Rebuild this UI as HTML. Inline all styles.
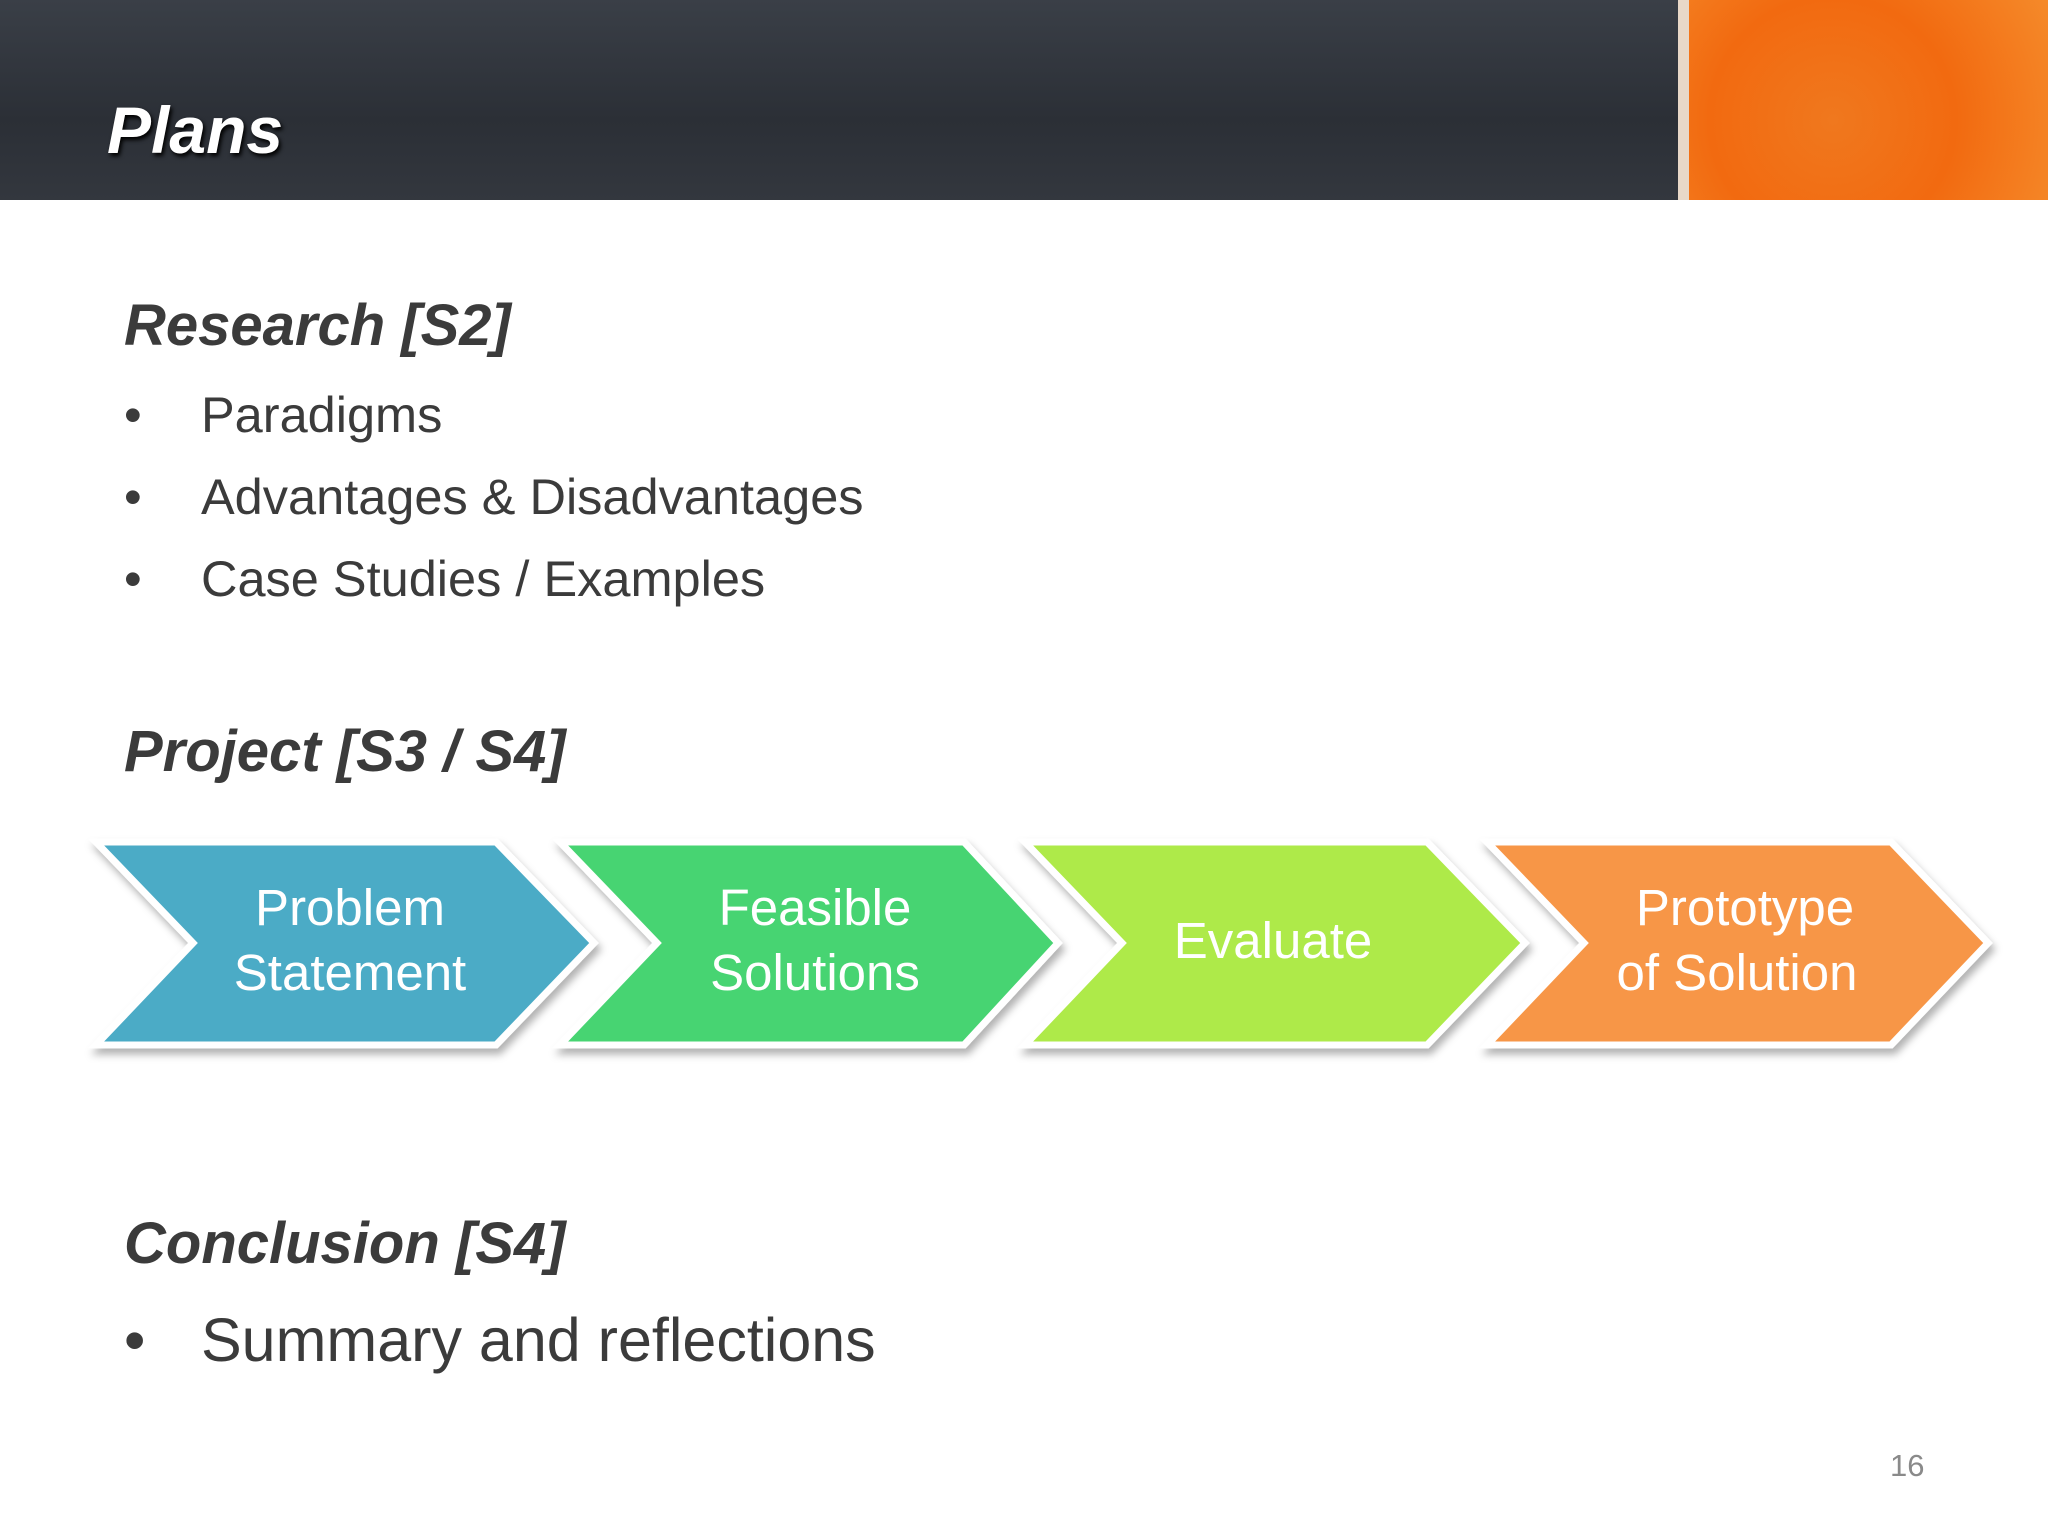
<!DOCTYPE html>
<html><head><meta charset="utf-8"><style>
html,body{margin:0;padding:0}
body{width:2048px;height:1536px;position:relative;overflow:hidden;background:#fff;font-family:"Liberation Sans",sans-serif}
.hdr{position:absolute;left:0;top:0;width:1678px;height:200px;background:linear-gradient(180deg,#3a3f47,#2b2f36 60%,#33373e)}
.gap{position:absolute;left:1678px;top:0;width:11px;height:200px;background:#e8d8c8}
.org{position:absolute;left:1689px;top:0;width:359px;height:200px;background:radial-gradient(circle at 40% 60%,#f0781e,#f26a10 50%,#f58a2a)}
.t{position:absolute;white-space:nowrap}
.h{font-weight:bold;font-style:italic;color:#3b3b3b;font-size:58px}
.b{color:#3b3b3b;font-size:50.5px}
</style></head><body>
<div class="hdr"></div><div class="gap"></div><div class="org"></div>
<div class="t" style="left:107px;top:92px;font-size:66px;font-weight:bold;font-style:italic;color:#fff;text-shadow:2px 3px 4px #000">Plans</div>
<div class="t h" style="left:124px;top:292px">Research [S2]</div>
<div class="t b" style="left:124px;top:385px">•</div><div class="t b" style="left:201px;top:385px">Paradigms</div>
<div class="t b" style="left:124px;top:467px">•</div><div class="t b" style="left:201px;top:467px">Advantages &amp; Disadvantages</div>
<div class="t b" style="left:124px;top:549px">•</div><div class="t b" style="left:201px;top:549px">Case Studies / Examples</div>
<div class="t h" style="left:124px;top:718px">Project [S3 / S4]</div>
<svg style="position:absolute;left:0;top:0" width="2048" height="1536">
<defs><filter id="s" x="-10%" y="-10%" width="120%" height="130%"><feDropShadow dx="3" dy="6" stdDeviation="4" flood-color="#000" flood-opacity="0.3"/></filter></defs>
<g stroke="#fff" stroke-width="7" filter="url(#s)">
<polygon points="96,842 496,842 594,943 496,1045 96,1045 193,943" fill="#4babc6"/>
<polygon points="560,842 964,842 1058,943 964,1045 560,1045 657,943" fill="#47d472"/>
<polygon points="1025,842 1427,842 1525,943 1427,1045 1025,1045 1122,943" fill="#aeea4a"/>
<polygon points="1487,842 1891,842 1988,943 1891,1045 1487,1045 1584,943" fill="#f79646"/>
</g>
<g fill="#fff" font-family="Liberation Sans, sans-serif" font-size="51" text-anchor="middle">
<text x="350" y="925">Problem</text><text x="350" y="990">Statement</text>
<text x="815" y="925">Feasible</text><text x="815" y="990">Solutions</text>
<text x="1273" y="958">Evaluate</text>
<text x="1745" y="925">Prototype</text><text x="1737" y="990">of Solution</text>
</g></svg>
<div class="t h" style="left:124px;top:1210px">Conclusion [S4]</div>
<div class="t b" style="left:124px;top:1305px;font-size:61px">•</div><div class="t b" style="left:201px;top:1305px;font-size:61px">Summary and reflections</div>
<div class="t" style="left:1890px;top:1448px;font-size:31px;color:#8a8a8a">16</div>
</body></html>
